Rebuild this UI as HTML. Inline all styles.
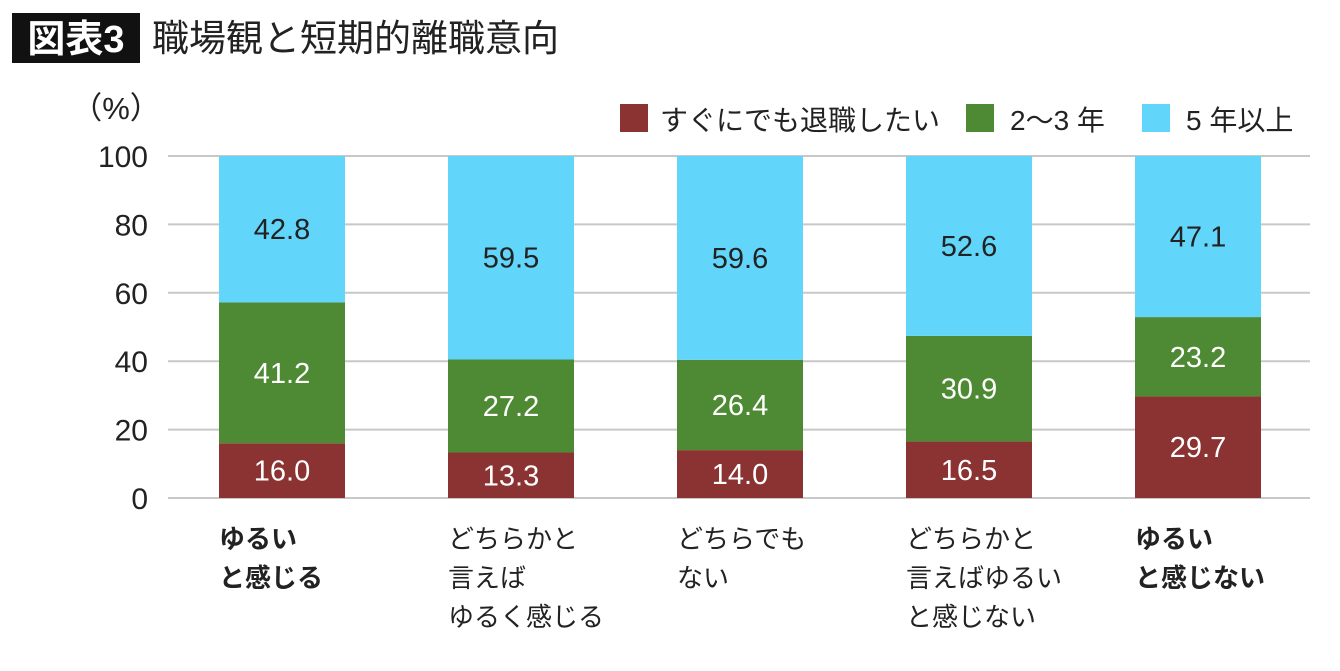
<!DOCTYPE html>
<html><head><meta charset="utf-8">
<style>
body{margin:0;background:#fff;width:1340px;height:666px;overflow:hidden;font-family:"Liberation Sans","Noto Sans CJK JP",sans-serif;}
</style></head>
<body>
<svg id="chart" width="1340" height="666" xmlns="http://www.w3.org/2000/svg" style="font-family:'Liberation Sans','Noto Sans CJK JP',sans-serif">
<rect x="12" y="13" width="128" height="50" fill="#111"/>
<text x="76" y="52" fill="#fff" font-size="38" font-weight="bold" text-anchor="middle">図表3</text>
<text x="152" y="51" fill="#222" font-size="37">職場観と短期的離職意向</text>
<text x="116" y="119" fill="#222" font-size="31" text-anchor="middle">（%）</text>
<g id="grid"></g><g id="bars"></g><g id="labels"></g>
<g>
<rect x="620" y="104" width="28" height="28" fill="#8b3333"/>
<text x="660" y="130" font-size="28" fill="#222">すぐにでも退職したい</text>
<rect x="966" y="104" width="28" height="28" fill="#4e8a33"/>
<text x="1010" y="130" font-size="28" fill="#222">2〜3 年</text>
<rect x="1142" y="104" width="28" height="28" fill="#62d5fa"/>
<text x="1186" y="130" font-size="28" fill="#222">5 年以上</text>
</g>
</svg>
<script>
const categories=[["ゆるい","と感じる"],["どちらかと","言えば","ゆるく感じる"],["どちらでも","ない"],["どちらかと","言えばゆるい","と感じない"],["ゆるい","と感じない"]];
const boldCats=[true,false,false,false,true];
const seriesNow=[16.0,13.3,14.0,16.5,29.7];
const series23=[41.2,27.2,26.4,30.9,23.2];
const series5=[42.8,59.5,59.6,52.6,47.1];
const yTicks=[0,20,40,60,80,100];
const NS="http://www.w3.org/2000/svg";
const y=v=>498-v*3.42;
const xLeft=i=>219+i*229;
const BW=126;
function mk(tag,attrs,parent){const e=document.createElementNS(NS,tag);for(const k in attrs)e.setAttribute(k,attrs[k]);parent.appendChild(e);return e;}
const grid=document.getElementById('grid'),bars=document.getElementById('bars'),labels=document.getElementById('labels');
yTicks.forEach(t=>{
 const l=mk('line',{x1:168,x2:1310,y1:y(t),y2:y(t),stroke:'#c8c8c8','stroke-width':2},grid);
 
 
 const tx=mk('text',{x:148,y:y(t)+11,'font-size':30,'text-anchor':'end',fill:'#222'},grid);
 tx.textContent=t;
 
 
});
const series=[[seriesNow,'#8b3333','#fff','now'],[series23,'#4e8a33','#fff','2-3'],[series5,'#62d5fa','#222','5plus']];
categories.forEach((c,i)=>{
 let base=0;
 series.forEach(s=>{
  const v=s[0][i];
  const top=base+v;
  const yt=y(Math.min(top,100)),yb=y(base);
  const r=mk('rect',{x:xLeft(i),y:yt,width:BW,height:yb-yt,fill:s[1]},bars);
  
  
  const t=mk('text',{x:xLeft(i)+BW/2,y:(yt+yb)/2+10,'font-size':29,'text-anchor':'middle',fill:s[2]},labels);
  t.textContent=v.toFixed(1);
  
  
  base=top;
 });
 c.forEach((line,j)=>{
  const t=mk('text',{x:xLeft(i),y:548+j*39,'font-size':26,fill:'#222','font-weight':boldCats[i]?'bold':'normal'},labels);
  t.textContent=line;
  
  
 });
});
</script>
</body></html>
